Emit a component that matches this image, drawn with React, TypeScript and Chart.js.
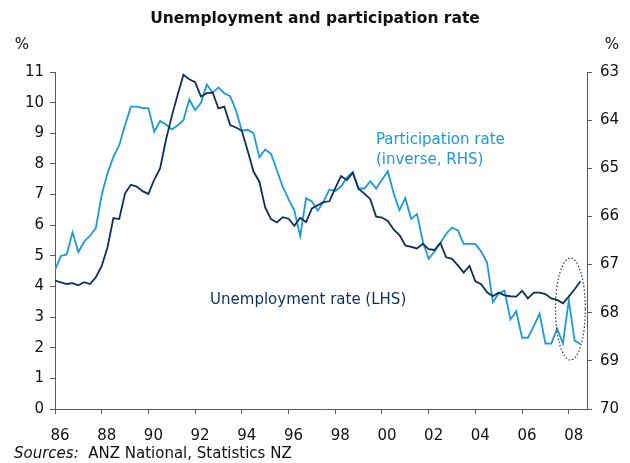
import React, { useEffect, useRef } from "react";
import { Chart, registerables } from "chart.js";

Chart.register(...registerables);

// Quarterly data, 1986 Q1 – 2008 Q3
const START_YEAR = 1986;

const unemploymentRate = [
  4.19, 4.13, 4.08, 4.11, 4.04, 4.14, 4.08, 4.30, 4.67, 5.28,
  6.23, 6.20, 7.04, 7.32, 7.26, 7.11, 7.02, 7.49, 7.85, 8.78,
  9.56, 10.25, 10.91, 10.76, 10.67, 10.20, 10.31, 10.33, 9.81, 9.87,
  9.27, 9.19, 9.08, 8.43, 7.75, 7.42, 6.58, 6.20, 6.09, 6.26,
  6.21, 5.98, 6.24, 6.10, 6.55, 6.65, 6.75, 6.78, 7.21, 7.60,
  7.47, 7.71, 7.18, 7.03, 6.85, 6.28, 6.25, 6.14, 5.86, 5.68,
  5.34, 5.29, 5.24, 5.39, 5.22, 5.19, 5.42, 4.95, 4.90, 4.69,
  4.45, 4.67, 4.17, 4.07, 3.81, 3.68, 3.80, 3.71, 3.68, 3.67,
  3.86, 3.61, 3.80, 3.80, 3.75, 3.61, 3.56, 3.45, 3.67, 3.91,
  4.17,
];

const participationRate = [
  67.11, 66.82, 66.79, 66.33, 66.74, 66.52, 66.40, 66.24, 65.55, 65.10,
  64.76, 64.52, 64.10, 63.72, 63.72, 63.75, 63.75, 64.24, 64.02, 64.09,
  64.19, 64.11, 64.00, 63.57, 63.79, 63.64, 63.26, 63.43, 63.32, 63.44,
  63.50, 63.80, 64.22, 64.20, 64.27, 64.77, 64.61, 64.70, 65.04, 65.38,
  65.64, 65.88, 66.41, 65.62, 65.69, 65.88, 65.69, 65.44, 65.47, 65.38,
  65.19, 65.08, 65.42, 65.42, 65.27, 65.42, 65.24, 65.06, 65.52, 65.87,
  65.62, 66.05, 65.95, 66.52, 66.88, 66.73, 66.55, 66.36, 66.23, 66.29,
  66.57, 66.57, 66.57, 66.73, 66.96, 67.78, 67.60, 67.54, 68.14, 67.97,
  68.52, 68.52, 68.28, 68.02, 68.64, 68.64, 68.33, 68.64, 67.74, 68.58,
  68.65,
];

const xTickYears = [1986, 1988, 1990, 1992, 1994, 1996, 1998, 2000, 2002, 2004, 2006, 2008];
const X_MIN = 1986;
const X_MAX = 2008.78;
const LEFT_MIN = 0;
const LEFT_MAX = 11;
const RIGHT_MIN = 63;
const RIGHT_MAX = 70;

const TITLE = "Unemployment and participation rate";
const PART_LABEL_1 = "Participation rate";
const PART_LABEL_2 = "(inverse, RHS)";
const UNEMP_LABEL = "Unemployment rate (LHS)";
const SOURCES_ITALIC = "Sources:";
const SOURCES_TEXT = "  ANZ National, Statistics NZ";

const DARK = "#0c2f5c";
const LIGHT = "#1b9bd7";
const AXIS = "#5a5a5a";
const TEXT = "#111111";
const FONT = "'DejaVu Sans', Verdana, sans-serif";

export default function App() {
  const ref = useRef<HTMLCanvasElement>(null);

  useEffect(() => {
    document.body.style.margin = "0";
    const canvas = ref.current;
    if (!canvas) return;

    const annot = {
      id: "annot",
      afterDraw(chart: any) {
        const { ctx } = chart;
        const x = chart.scales.x;
        const y = chart.scales.y;
        ctx.save();
        ctx.textBaseline = "middle";

        // Title
        ctx.fillStyle = TEXT;
        ctx.font = `bold 15.5px ${FONT}`;
        ctx.textAlign = "center";
        ctx.fillText(TITLE, chart.width / 2, 19);

        // % units
        ctx.font = `15px ${FONT}`;
        ctx.fillText("%", 22, 45);
        ctx.fillText("%", 612, 45);

        // Series labels
        ctx.textAlign = "left";
        ctx.fillStyle = LIGHT;
        ctx.fillText(PART_LABEL_1, x.getPixelForValue(1999.74), y.getPixelForValue(8.78));
        ctx.fillText(PART_LABEL_2, x.getPixelForValue(1999.74), y.getPixelForValue(8.13));
        ctx.fillStyle = DARK;
        ctx.fillText(UNEMP_LABEL, x.getPixelForValue(1992.64), y.getPixelForValue(3.56));

        // Dotted ellipse highlight
        const cx = x.getPixelForValue(2008.07);
        const rx = x.getPixelForValue(2008.71) - cx;
        const top = y.getPixelForValue(4.93);
        const bottom = y.getPixelForValue(1.6);
        ctx.beginPath();
        ctx.setLineDash([1.5, 2]);
        ctx.strokeStyle = "#333";
        ctx.lineWidth = 1.2;
        ctx.ellipse(cx, (top + bottom) / 2, rx, (bottom - top) / 2, 0, 0, Math.PI * 2);
        ctx.stroke();
        ctx.setLineDash([]);

        // Sources
        ctx.fillStyle = TEXT;
        ctx.font = `italic 15px ${FONT}`;
        ctx.fillText(SOURCES_ITALIC, 14, 454);
        const w = ctx.measureText(SOURCES_ITALIC).width;
        ctx.font = `15px ${FONT}`;
        ctx.fillText(SOURCES_TEXT, 14 + w, 454);
        ctx.restore();
      },
    };

    const tickFont = { family: FONT, size: 15 };

    const chart = new Chart(canvas, {
      type: "line",
      data: {
        datasets: [
          {
            label: UNEMP_LABEL,
            data: unemploymentRate.map((v, i) => ({ x: START_YEAR + i / 4, y: v })),
            yAxisID: "y",
            borderColor: DARK,
            borderWidth: 1.8,
            pointRadius: 0,
            tension: 0,
          },
          {
            label: PART_LABEL_1,
            data: participationRate.map((v, i) => ({ x: START_YEAR + i / 4, y: v })),
            yAxisID: "y1",
            borderColor: LIGHT,
            borderWidth: 1.8,
            pointRadius: 0,
            tension: 0,
          },
        ],
      },
      options: {
        animation: false,
        responsive: false,
        maintainAspectRatio: false,
        layout: { padding: { top: 72, bottom: 14, left: 0, right: 0 } },
        plugins: {
          legend: { display: false },
          tooltip: { enabled: false },
          title: { display: false },
        },
        scales: {
          x: {
            type: "linear",
            min: X_MIN,
            max: X_MAX,
            afterBuildTicks: (s: any) => {
              s.ticks = xTickYears.map((v) => ({ value: v }));
            },
            afterFit: (s: any) => {
              s.height = 40;
            },
            ticks: {
              autoSkip: false,
              maxRotation: 0,
              labelOffset: 5,
              padding: 13,
              color: TEXT,
              font: tickFont,
              callback: (v: any) => String(Number(v) % 100).padStart(2, "0"),
            },
            grid: { drawOnChartArea: false, drawTicks: true, tickLength: 5, color: AXIS },
            border: { color: AXIS, width: 1 },
          },
          y: {
            position: "left",
            min: LEFT_MIN,
            max: LEFT_MAX,
            afterFit: (s: any) => {
              s.width = 55;
            },
            ticks: { stepSize: 1, padding: 6, color: TEXT, font: tickFont },
            grid: { drawOnChartArea: false, drawTicks: true, tickLength: 5, color: AXIS },
            border: { color: AXIS, width: 1 },
          },
          y1: {
            position: "right",
            min: RIGHT_MIN,
            max: RIGHT_MAX,
            reverse: true,
            afterFit: (s: any) => {
              s.width = 43;
            },
            ticks: { stepSize: 1, padding: 8, color: TEXT, font: tickFont },
            grid: { drawOnChartArea: false, drawTicks: true, tickLength: 5, color: AXIS },
            border: { color: AXIS, width: 1 },
          },
        },
      } as any,
      plugins: [annot],
    });

    return () => chart.destroy();
  }, []);

  return <canvas ref={ref} width={630} height={463} style={{ display: "block" }} />;
}
